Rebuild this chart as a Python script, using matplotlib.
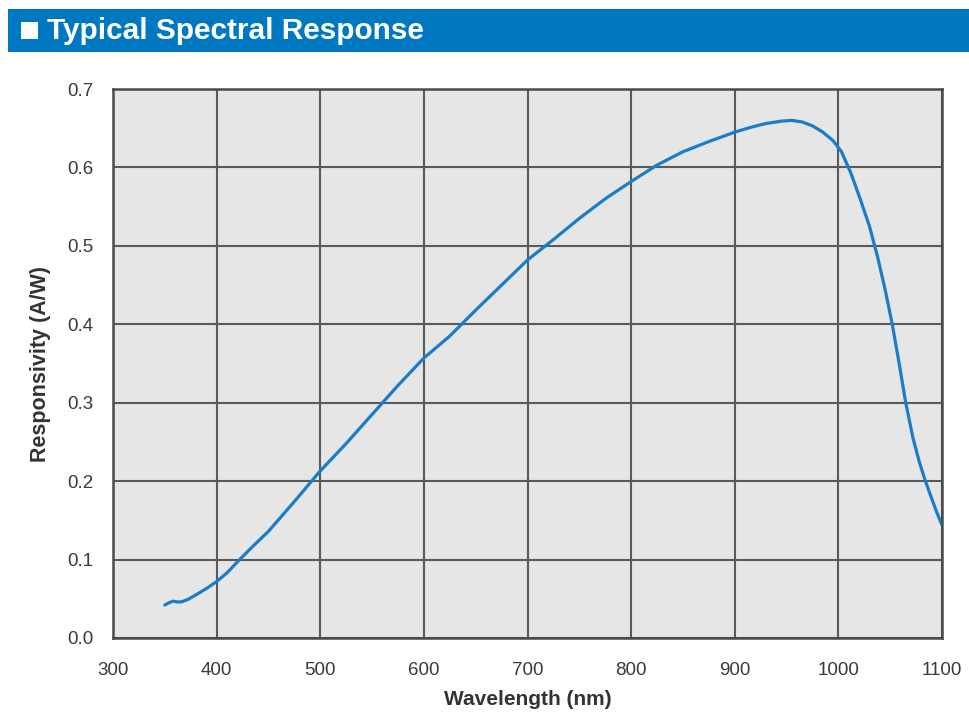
import matplotlib
matplotlib.use("Agg")
import matplotlib.pyplot as plt
from matplotlib.patches import Rectangle

plt.rcParams['font.family'] = ['Liberation Sans', 'DejaVu Sans']

wavelength = [350, 354, 358, 362, 366, 372, 380, 390, 400, 410, 420, 435, 450,
              475, 500, 525, 550, 575, 600, 625, 650, 675, 700, 725, 750, 775,
              800, 825, 850, 875, 900, 915, 930, 945, 955, 965, 975, 985, 995,
              1003, 1012, 1021, 1030, 1038, 1045, 1052, 1058, 1065, 1072, 1078,
              1084, 1090, 1095, 1100]
responsivity = [0.042, 0.045, 0.047, 0.046, 0.046, 0.049, 0.055, 0.063, 0.072,
                0.083, 0.097, 0.117, 0.136, 0.174, 0.213, 0.248, 0.285, 0.322,
                0.357, 0.385, 0.418, 0.450, 0.482, 0.508, 0.535, 0.560, 0.582,
                0.603, 0.620, 0.633, 0.645, 0.651, 0.656, 0.659, 0.660, 0.658,
                0.653, 0.645, 0.634, 0.620, 0.593, 0.560, 0.525, 0.485, 0.445,
                0.400, 0.355, 0.300, 0.255, 0.225, 0.200, 0.178, 0.160, 0.144]
xticks = [300, 400, 500, 600, 700, 800, 900, 1000, 1100]
yticks = [0.0, 0.1, 0.2, 0.3, 0.4, 0.5, 0.6, 0.7]

fig = plt.figure(figsize=(9.69, 7.13), dpi=100)
fig.patch.set_facecolor('white')

# Title banner
fig.patches.append(Rectangle((8/969, 1-52/713), 1-8/969, 43/713,
                             transform=fig.transFigure, facecolor='#0078c1',
                             edgecolor='none'))
fig.patches.append(Rectangle((21/969, 1-39/713), 17/969, 17/713,
                             transform=fig.transFigure, facecolor='white',
                             edgecolor='none'))
fig.text(47/969, 1-31/713, 'Typical Spectral Response', color='white',
         fontsize=21.4, fontweight='bold', va='center', ha='left')

ax = fig.add_axes([113/969, 1-638/713, (942-113)/969, (638-89)/713])
ax.set_facecolor('#e6e6e6')
ax.plot(wavelength, responsivity, color='#1a7dc8', lw=2.3,
        solid_capstyle='round', solid_joinstyle='round')
ax.set_xlim(300, 1100)
ax.set_ylim(0, 0.7)
ax.set_xticks(xticks)
ax.set_yticks(yticks)
ax.set_yticklabels([f'{v:.1f}' for v in yticks])
ax.grid(True, color='#5a5a5a', lw=1.5)
ax.set_axisbelow(True)
for s in ax.spines.values():
    s.set_color('#4a4a4a')
    s.set_linewidth(1.8)
ax.tick_params(length=0, labelsize=13.5, colors='#3a3a3a')
ax.tick_params(axis='x', pad=17)
ax.tick_params(axis='y', pad=14)
ax.set_xlabel('Wavelength (nm)', fontsize=15, fontweight='bold',
              color='#333333', labelpad=8)
ax.set_ylabel('Responsivity (A/W)', fontsize=15.5, fontweight='bold',
              color='#333333', labelpad=12)

fig.savefig('out.png', dpi=100)
